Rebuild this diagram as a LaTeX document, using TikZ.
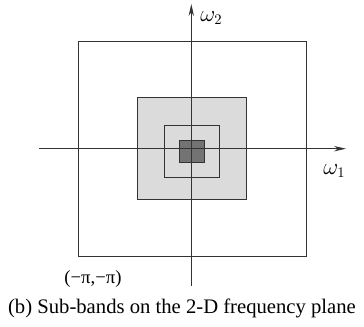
\documentclass[tikz,border=0pt]{standalone}
\usepackage{fontspec}
\setmainfont{Liberation Serif}
\usetikzlibrary{arrows.meta, positioning}

\begin{document}
\begin{tikzpicture}[
    x=0.75pt, y=-0.75pt,
    band/.style={draw=black!80, line width=0.6pt},
    axis/.style={draw=black!80, line width=0.6pt, -{Stealth[length=9pt, width=4pt]}},
    lab/.style={font=\fontsize{14}{16}\selectfont, inner sep=0pt}
]
    \useasboundingbox (0,0) rectangle (364,327);

    % Sub-bands, from outside to inside
    \draw [band] (78,41.5) rectangle (306,256);
    \draw [band, fill=black!14] (137.7,97.7) rectangle (246,199.3);
    \draw [band] (164.3,125.7) rectangle (219,177);
    \draw [band, fill=black!55] (179.3,140.3) rectangle (204,162.7);

    % Axes
    \coordinate (origin) at (191.3,148.7);
    \coordinate (wleft) at (39.3,148.7);
    \coordinate (wright) at (346,148.7);
    \coordinate (wdown) at (191.3,285.7);
    \coordinate (wup) at (191.3,4);
    \draw [axis] (wleft) -- (wright);
    \draw [axis] (wdown) -- (wup);

    % Labels
    \node (omega2) [lab, font=\fontsize{16}{18}\selectfont, anchor=west] at (200,18) {$\omega_2$};
    \node (omega1) [lab, font=\fontsize{16}{18}\selectfont, anchor=west] at (323,171) {$\omega_1$};
    \node (corner) [lab] at (93,279) {(−π,−π)};
    \node (caption) [lab, font=\fontsize{15.5}{18}\selectfont] at (182,308) {(b) Sub-bands on the 2-D frequency plane};

\end{tikzpicture}
\end{document}
